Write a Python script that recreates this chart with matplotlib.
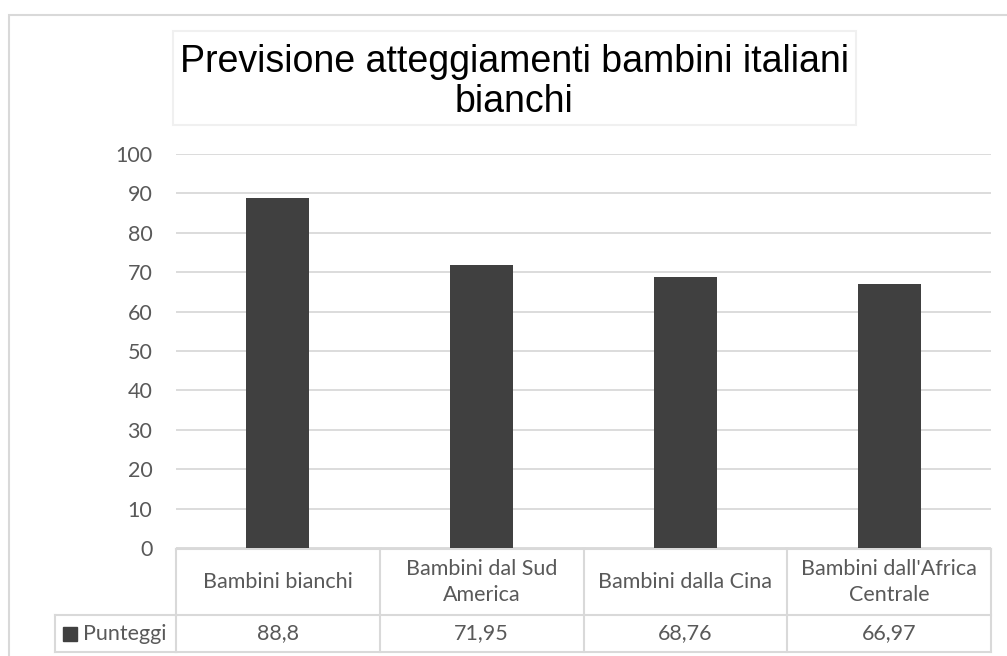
import matplotlib.pyplot as plt
from matplotlib.patches import Rectangle
from matplotlib.transforms import blended_transform_factory

categories = ["Bambini bianchi", "Bambini dal Sud\nAmerica", "Bambini dalla Cina",
              "Bambini dall'Africa\nCentrale"]
values = [88.8, 71.95, 68.76, 66.97]
value_labels = ["88,8", "71,95", "68,76", "66,97"]
series_name = "Punteggi"
y_ticks = [0, 10, 20, 30, 40, 50, 60, 70, 80, 90, 100]
title = "Previsione atteggiamenti bambini italiani\nbianchi"

W, H = 1007, 656
BAR = "#404040"
TXT = "#595959"
GRID = "#d9d9d9"
FS = 15.5


def fx(px):
    return px / W


def fy(py):
    return 1 - py / H


fig = plt.figure(figsize=(W / 100, H / 100), dpi=100)
fig.patch.set_facecolor("white")

# outer chart border (cut off right/bottom in the original)
fig.patches.append(Rectangle((fx(9), fy(700)), fx(1100), fy(15) - fy(700),
                             transform=fig.transFigure, fill=False,
                             edgecolor=GRID, lw=1.5))

# title box, one text per line so the baselines sit where Excel put them
fig.patches.append(Rectangle((fx(173), fy(125)), fx(856) - fx(173), fy(31) - fy(125),
                             transform=fig.transFigure, fill=False,
                             edgecolor="#f0f0f0", lw=1.5))
for line, base in zip(title.split("\n"), [72, 112]):
    fig.text(fx(514), fy(base), line, ha="center", va="baseline", fontsize=27,
             family="Liberation Sans", color="black")

ax = fig.add_axes([fx(176), fy(548), fx(991) - fx(176), fy(154) - fy(548)])
x = range(len(values))
ax.bar(x, values, width=0.31, color=BAR, zorder=3)
ax.set_xlim(-0.5, len(values) - 0.5)
ax.set_ylim(0, 100)
ax.set_yticks(y_ticks)
ax.set_yticklabels([str(t) for t in y_ticks], family="Lato", fontsize=FS, color=TXT)
ax.tick_params(axis="y", length=0, pad=17)
ax.set_xticks([])
ax.grid(axis="y", color=GRID, lw=1.3, zorder=0)
for s in ax.spines.values():
    s.set_visible(False)

# data table under the axis
tr = blended_transform_factory(ax.transData, fig.transFigure)
top, mid, bot = fy(549), fy(615), fy(652)
n = len(values)
lkw = dict(transform=tr, color=GRID, lw=1.5, clip_on=False)
ax.plot([-0.5, n - 0.5], [top, top], **lkw)
ax.plot([-0.5, n - 0.5], [bot, bot], **lkw)
for i in range(n + 1):
    ax.plot([i - 0.5, i - 0.5], [top, bot], **lkw)
ax.plot([-0.5, n - 0.5], [mid, mid], **lkw)
# legend cell on the left of the value row
fig.add_artist(plt.Line2D([fx(55), fx(176)], [mid, mid], color=GRID, lw=1.5))
fig.add_artist(plt.Line2D([fx(55), fx(176)], [bot, bot], color=GRID, lw=1.5))
fig.add_artist(plt.Line2D([fx(55), fx(55)], [mid, bot], color=GRID, lw=1.5))

for i in range(n):
    ax.text(i, (top + mid) / 2, categories[i], transform=tr, ha="center", va="center",
            family="Lato", fontsize=FS, color=TXT, linespacing=1.35, clip_on=False)
    ax.text(i, (mid + bot) / 2, value_labels[i], transform=tr, ha="center", va="center",
            family="Lato", fontsize=FS, color=TXT, clip_on=False)

fig.patches.append(Rectangle((fx(63), fy(641)), fx(14), fy(627) - fy(641),
                             transform=fig.transFigure, color=BAR))
fig.text(fx(83), (mid + bot) / 2, series_name, ha="left", va="center",
         family="Lato", fontsize=FS, color=TXT)

fig.savefig("out.png", dpi=100)
